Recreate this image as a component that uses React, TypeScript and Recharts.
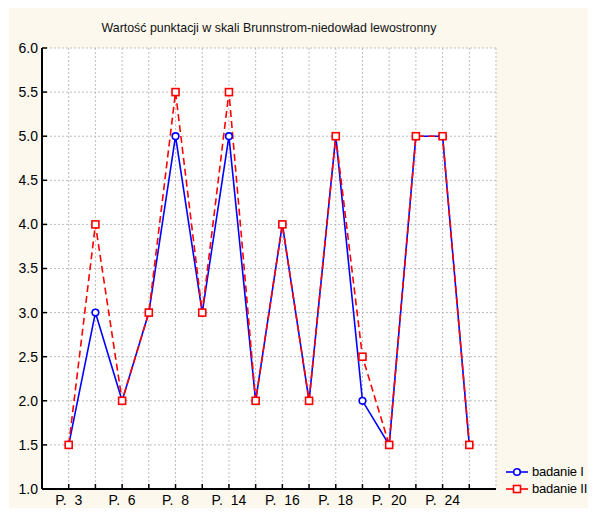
import React from 'react';
import { CartesianGrid, Legend, Line, LineChart, XAxis, YAxis } from 'recharts';

const FONT = '"Liberation Sans", Arial, Helvetica, sans-serif';
const BLUE = '#0000ff';
const RED = '#ff0000';

// patients along the x axis; only every other one gets a printed label
const PATIENTS = [
  'P.  3', '', 'P.  6', '', 'P.  8', '', 'P.  14', '',
  'P.  16', '', 'P.  18', '', 'P.  20', '', 'P.  24', '',
];
const BADANIE_I = [1.5, 3.0, 2.0, 3.0, 5.0, 3.0, 5.0, 2.0, 4.0, 2.0, 5.0, 2.0, 1.5, 5.0, 5.0, 1.5];
const BADANIE_II = [1.5, 4.0, 2.0, 3.0, 5.5, 3.0, 5.5, 2.0, 4.0, 2.0, 5.0, 2.5, 1.5, 5.0, 5.0, 1.5];
const Y_TICKS = [1.0, 1.5, 2.0, 2.5, 3.0, 3.5, 4.0, 4.5, 5.0, 5.5, 6.0];

const X_TICKS = PATIENTS.map((_, i) => i + 1);
const rows = PATIENTS.map((label, i) => ({
  pos: i + 1,
  label,
  b1: BADANIE_I[i],
  b2: BADANIE_II[i],
}));

const XTick = ({ x, y, payload }: any) => (
  <text x={x} y={y} dy={16} textAnchor="middle" fontSize={14} fontFamily={FONT} fill="#000" style={{ whiteSpace: 'pre' }}>
    {PATIENTS[payload.value - 1]}
  </text>
);

const SquareDot = (p: any) => (
  <rect key={`sq-${p.index}`} x={p.cx - 3.5} y={p.cy - 3.5} width={7} height={7} fill="#fff" stroke={RED} strokeWidth={1.6} />
);

const LegendBox = ({ payload }: any) => (
  <div style={{ fontFamily: FONT, fontSize: 13, color: '#000', whiteSpace: 'nowrap' }}>
    {(payload || []).map((e: any) => (
      <div key={e.value} style={{ display: 'flex', alignItems: 'center', height: 17 }}>
        <svg width={24} height={12} style={{ marginRight: 3, flex: 'none' }}>
          <line x1={1} y1={6} x2={23} y2={6} stroke={e.color} strokeWidth={1.6} />
          {e.dataKey === 'b2' ? (
            <rect x={8.5} y={2.5} width={7} height={7} fill="#fff" stroke={e.color} strokeWidth={1.6} />
          ) : (
            <circle cx={12} cy={6} r={3.3} fill="#fff" stroke={e.color} strokeWidth={1.6} />
          )}
        </svg>
        <span style={{ letterSpacing: -0.2 }}>{e.value}</span>
      </div>
    ))}
  </div>
);

export default function App() {
  return (
    <div style={{ position: 'relative', width: 596, height: 516, margin: -8, background: '#fff', overflow: 'hidden' }}>
      <div style={{ position: 'absolute', left: 9, top: 8, right: 0, bottom: 0, background: '#fcf8ee' }} />
      <div
        style={{
          position: 'absolute', left: 0, width: 538, top: 21, textAlign: 'center',
          fontFamily: FONT, fontSize: 12.4, color: '#111', whiteSpace: 'nowrap',
        }}
      >
        Wartość punktacji w skali Brunnstrom-niedowład lewostronny
      </div>
      <div style={{ position: 'absolute', left: 0, top: 0 }}>
        <LineChart width={596} height={516} data={rows} margin={{ top: 48, right: 100, bottom: 0, left: 0 }}>
          <CartesianGrid stroke="#bdbdbd" strokeDasharray="2 2" fill="#fff" />
          <XAxis
            dataKey="pos" type="number" domain={[0, 17]} ticks={X_TICKS} interval={0}
            height={27} tickSize={-5} tickMargin={5} tick={<XTick />}
            axisLine={{ stroke: '#000', strokeWidth: 2 }} tickLine={{ stroke: '#000', strokeWidth: 1.5 }}
          />
          <XAxis
            xAxisId="top" orientation="top" type="number" domain={[0, 17]} ticks={X_TICKS} interval={0}
            height={0} tickSize={-5} tick={false} allowDataOverflow
            axisLine={{ stroke: '#000', strokeWidth: 2 }} tickLine={{ stroke: '#000', strokeWidth: 1.5 }}
          />
          <YAxis
            type="number" domain={[1, 6]} ticks={Y_TICKS} interval={0} width={42}
            tickSize={-5} tickMargin={9} tickFormatter={(v: number) => v.toFixed(1)}
            tick={{ fontSize: 14, fontFamily: FONT, fill: '#000' }}
            axisLine={{ stroke: '#000', strokeWidth: 2 }} tickLine={{ stroke: '#000', strokeWidth: 1.5 }}
          />
          <YAxis
            yAxisId="right" orientation="right" type="number" domain={[1, 6]} ticks={Y_TICKS} interval={0}
            width={0} tickSize={-5} tick={false} allowDataOverflow
            axisLine={{ stroke: '#000', strokeWidth: 2 }} tickLine={{ stroke: '#000', strokeWidth: 1.5 }}
          />
          <Line
            dataKey="b1" name="badanie I" stroke={BLUE} strokeWidth={1.6}
            dot={{ r: 3.3, stroke: BLUE, strokeWidth: 1.6, fill: '#fff' }}
            isAnimationActive={false}
          />
          <Line
            dataKey="b2" name="badanie II" stroke={RED} strokeWidth={1.6} strokeDasharray="7 4"
            dot={SquareDot} isAnimationActive={false}
          />
          <Legend
            layout="vertical" align="center" verticalAlign="middle" content={<LegendBox />}
            wrapperStyle={{ left: 505, top: 463, width: 91, right: 'auto', bottom: 'auto' }}
          />
        </LineChart>
      </div>
    </div>
  );
}
